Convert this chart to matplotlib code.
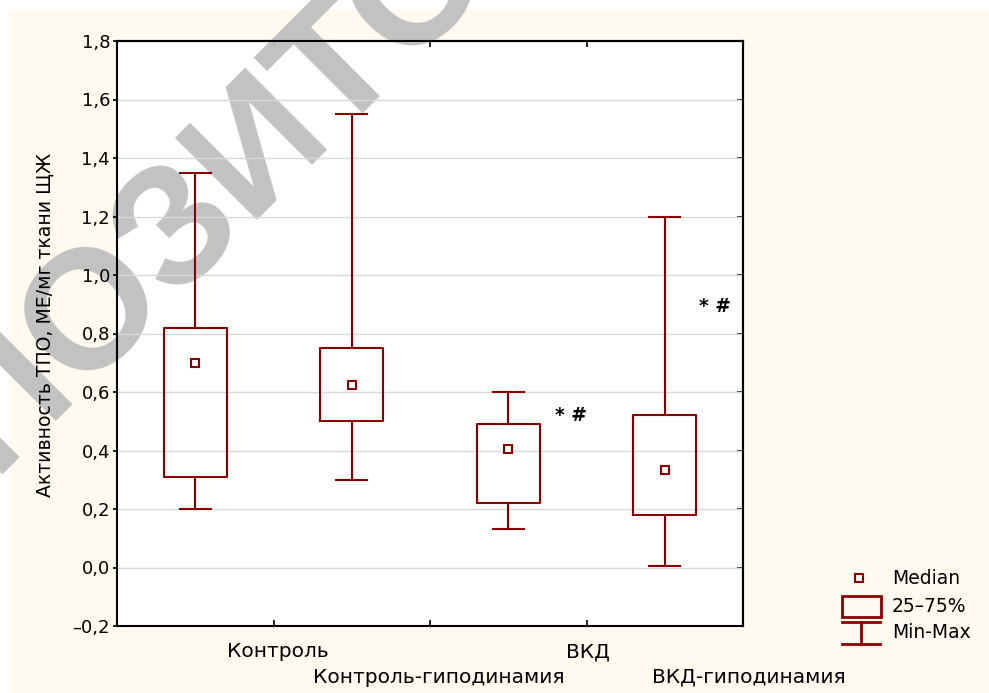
import numpy as np
import matplotlib
matplotlib.use("Agg")
import matplotlib.pyplot as plt
from matplotlib.patches import Rectangle
from matplotlib.lines import Line2D
from matplotlib.ticker import FixedLocator, FuncFormatter
from matplotlib.textpath import TextPath
from matplotlib.font_manager import FontProperties

# Activity of thyroid peroxidase per group
groups = ["Контроль", "Контроль-гиподинамия", "ВКД", "ВКД-гиподинамия"]
mins = [0.20, 0.30, 0.13, 0.005]
q1 = [0.31, 0.50, 0.22, 0.18]
medians = [0.70, 0.625, 0.405, 0.335]
q3 = [0.82, 0.75, 0.49, 0.52]
maxs = [1.35, 1.55, 0.60, 1.20]
marks = ["", "", "* #", "* #"]
y_ticks = [-0.2, 0.0, 0.2, 0.4, 0.6, 0.8, 1.0, 1.2, 1.4, 1.6, 1.8]

W, H = 989, 693
DPI = 100
RED = "#8a0000"
CREAM = "#fffaf0"
FONT = "DejaVu Sans"
plt.rcParams["font.family"] = [FONT]

fig = plt.figure(figsize=(W / DPI, H / DPI), dpi=DPI)
fig.patch.set_facecolor("white")
fig.add_artist(Rectangle((9 / W, 0), 1, 1 - 10 / H, transform=fig.transFigure,
                         facecolor=CREAM, edgecolor="none", zorder=-1))

def px_axes(x0, y0, x1, y1):
    return [x0 / W, 1 - y1 / H, (x1 - x0) / W, (y1 - y0) / H]

ax = fig.add_axes(px_axes(117, 41, 743, 626))
ax.set_facecolor("white")
ax.set_axisbelow(True)
ax.set_xlim(0.5, 4.5)
ax.set_ylim(-0.2, 1.8)

# Diagonal watermark; its 6th letter is centred on a chosen pixel
wm_word, wm_size, wm_angle = "РЕПОЗИТОРИЙ", 122, 45
wm_prop = FontProperties(family="Liberation Sans", weight="bold", size=wm_size)
pt2px = DPI / 72
ext_prefix = TextPath((0, 0), wm_word[:6], prop=wm_prop).get_extents()
ext_letter = TextPath((0, 0), wm_word[5], prop=wm_prop).get_extents()
along = (ext_prefix.x1 - ext_letter.width / 2) * pt2px
up = ext_letter.height / 2 * pt2px
th = np.radians(wm_angle)
u = np.array([np.cos(th), -np.sin(th)])      # baseline direction (pixel, y down)
n = np.array([-np.sin(th), -np.cos(th)])     # glyph "up" direction
target = np.array([248.0, 135.0])
start = target - u * along - n * up
ax.text(start[0] / W, 1 - start[1] / H, wm_word, transform=fig.transFigure,
        rotation=wm_angle, rotation_mode="anchor", ha="left", va="baseline",
        fontproperties=wm_prop, color="#bfbfbf", alpha=0.95,
        clip_on=False, zorder=0.3)

positions = list(range(1, len(groups) + 1))
stats = [dict(med=m, q1=a, q3=b, whislo=lo, whishi=hi, fliers=[])
         for m, a, b, lo, hi in zip(medians, q1, q3, mins, maxs)]
lw = 1.5
ax.bxp(stats, positions=positions, widths=0.4, capwidths=0.2, showfliers=False,
       patch_artist=False,
       boxprops=dict(color=RED, linewidth=lw),
       whiskerprops=dict(color=RED, linewidth=lw),
       capprops=dict(color=RED, linewidth=lw),
       medianprops=dict(linewidth=0), manage_ticks=False, zorder=3)
ax.plot(positions, medians, linestyle="none", marker="s", markersize=5.5,
        markerfacecolor="white", markeredgecolor=RED, markeredgewidth=1.5, zorder=4)

mark_xy = [(None, None), (None, None), (3.40, 0.521), (4.32, 0.891)]
for (mx, my), t in zip(mark_xy, marks):
    if t:
        ax.text(mx, my, t, ha="center", va="center", fontsize=13.5,
                fontweight="bold", color="black", zorder=5)

# Axes styling
for s in ax.spines.values():
    s.set_linewidth(1.5)
    s.set_color("black")
ax.yaxis.set_major_locator(FixedLocator(y_ticks))
ax.yaxis.set_major_formatter(FuncFormatter(
    lambda v, p: f"{v:.1f}".replace(".", ",").replace("-", "–")))
ax.grid(axis="y", color="#d9d9d9", linewidth=1.0)
ax.tick_params(axis="y", direction="out", length=3, width=1.2, pad=2,
               labelsize=13, right=False)
ax.set_xticks([1.5, 2.5, 3.5])
ax.tick_params(axis="x", direction="in", length=4, width=1.2, labelbottom=False)

sec_y = ax.secondary_yaxis("right")
sec_y.set_yticks(y_ticks)
sec_y.tick_params(direction="in", length=4, width=1.2, labelright=False)
sec_y.spines["right"].set_linewidth(1.5)
sec_x = ax.secondary_xaxis("top")
sec_x.set_xticks([1.5, 2.5, 3.5])
sec_x.tick_params(direction="in", length=4, width=1.2, labeltop=False)
sec_x.spines["top"].set_linewidth(1.5)

# Staggered category labels
label_x = [1.525, 2.554, 3.51, 4.54]
label_row = [-0.0444, -0.0872, -0.0444, -0.0872]
for gx, gy, g in zip(label_x, label_row, groups):
    ax.text(gx, gy, g, transform=ax.get_xaxis_transform(), ha="center",
            va="center", fontsize=14.5, clip_on=False)

fig.text(45 / W, 1 - 325 / H, "Активность ТПО, МЕ/мг ткани ЩЖ", rotation=90,
         ha="center", va="center", fontsize=13.6)

# Legend drawn in pixel space
lax = fig.add_axes([0, 0, 1, 1])
lax.set_xlim(0, W)
lax.set_ylim(H, 0)
lax.axis("off")
lax.patch.set_alpha(0)
lax.plot([859], [578], linestyle="none", marker="s", markersize=5.5,
         markerfacecolor="white", markeredgecolor=RED, markeredgewidth=1.5)
lax.add_patch(Rectangle((842, 596), 39, 21, facecolor="none", edgecolor=RED,
                        linewidth=2))
lax.add_line(Line2D([842, 880], [622, 622], color=RED, linewidth=2))
lax.add_line(Line2D([842, 880], [644, 644], color=RED, linewidth=2))
lax.add_line(Line2D([861, 861], [622, 644], color=RED, linewidth=2))
for ty, t in zip([578, 607, 633], ["Median", "25–75%", "Min-Max"]):
    lax.text(892, ty, t, ha="left", va="center", fontsize=13.5)

fig.savefig("out.png", dpi=DPI, facecolor=fig.get_facecolor())
